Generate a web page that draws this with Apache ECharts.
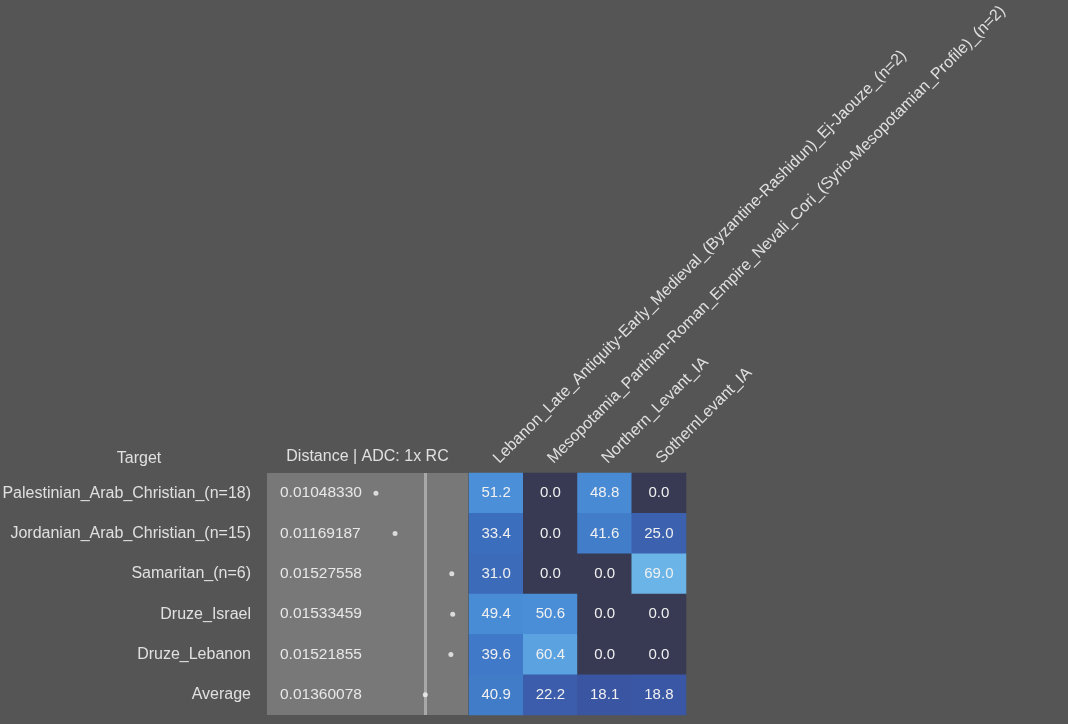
<!DOCTYPE html>
<html>
<head>
<meta charset="utf-8">
<script src="https://cdn.jsdelivr.net/npm/echarts@6/dist/echarts.min.js"></script>
<style>
html,body{margin:0;padding:0;background:#555555;}
#chart{width:1068px;height:724px;}
</style>
</head>
<body>
<div id="chart"></div>
<script>
const targets = [
  'Palestinian_Arab_Christian_(n=18)',
  'Jordanian_Arab_Christian_(n=15)',
  'Samaritan_(n=6)',
  'Druze_Israel',
  'Druze_Lebanon',
  'Average'
];
const distances = [0.01048330, 0.01169187, 0.01527558, 0.01533459, 0.01521855, 0.01360078];
const sources = [
  'Lebanon_Late_Antiquity-Early_Medieval_(Byzantine-Rashidun)_Ej-Jaouze_(n=2)',
  'Mesopotamia_Parthian-Roman_Empire_Nevali_Cori_(Syrio-Mesopotamian_Profile)_(n=2)',
  'Northern_Levant_IA',
  'SothernLevant_IA'
];
// rows follow targets, columns follow sources
const lebanonLate = [51.2, 33.4, 31.0, 49.4, 39.6, 40.9];
const mesopotamia = [0.0, 0.0, 0.0, 50.6, 60.4, 22.2];
const northernLevant = [48.8, 41.6, 0.0, 0.0, 0.0, 18.1];
const southernLevant = [0.0, 25.0, 69.0, 0.0, 0.0, 18.8];
const columns = [lebanonLate, mesopotamia, northernLevant, southernLevant];
const averageDistance = distances[distances.length - 1];

const heatData = [];
columns.forEach((col, ci) => col.forEach((v, ri) => heatData.push([ci, ri, v])));
const scatterData = distances.map((d, i) => [d, i]);
const distanceLabels = distances.map(d => d.toFixed(8));

const FONT = "'Liberation Sans', Arial, sans-serif";
const chart = echarts.init(document.getElementById('chart'));
chart.setOption({
  backgroundColor: '#555555',
  animation: false,
  textStyle: { fontFamily: FONT },
  title: {
    text: 'Target', left: 134, top: 446, textAlign: 'center',
    textStyle: { color: '#e0e0e0', fontSize: 16, fontWeight: 'normal', fontFamily: FONT }
  },
  grid: [
    { left: 267, top: 473, width: 201, height: 242, show: true, backgroundColor: '#787878', borderWidth: 0, containLabel: false, outerBoundsMode: 'none' },
    { left: 469, top: 473, width: 217, height: 242, show: false, containLabel: false, outerBoundsMode: 'none' }
  ],
  xAxis: [
    {
      type: 'value', gridIndex: 0, min: 0.0036, max: 0.0163, position: 'top',
      axisLine: { show: false }, axisTick: { show: false }, splitLine: { show: false }, axisLabel: { show: false },
      name: 'Distance | ADC: 1x RC', nameLocation: 'middle', nameGap: 8,
      nameTextStyle: { color: '#e0e0e0', fontSize: 16, fontFamily: FONT }
    },
    {
      type: 'category', gridIndex: 1, data: sources, position: 'top',
      axisLine: { show: false }, axisTick: { show: false }, splitLine: { show: false },
      axisLabel: { rotate: -45, align: 'left', verticalAlign: 'middle', color: '#e0e0e0', fontSize: 16, fontFamily: FONT, margin: 12, interval: 0 }
    }
  ],
  yAxis: [
    {
      type: 'category', gridIndex: 0, data: targets, inverse: true, position: 'left',
      axisLine: { show: false }, axisTick: { show: false }, splitLine: { show: false },
      axisLabel: { color: '#e0e0e0', fontSize: 16, fontFamily: FONT, margin: 16 }
    },
    {
      type: 'category', gridIndex: 0, data: distanceLabels, inverse: true, position: 'left',
      axisLine: { show: false }, axisTick: { show: false }, splitLine: { show: false },
      axisLabel: { inside: true, color: '#e8e8e8', fontSize: 15.5, fontFamily: FONT, margin: 13 }
    },
    {
      type: 'category', gridIndex: 1, data: targets, inverse: true, show: false
    }
  ],
  visualMap: {
    show: false, type: 'continuous', min: 0, max: 69, seriesIndex: 2, dimension: 2,
    inRange: { color: ['#373a52', '#3a55a2', '#3c70c0', '#4a90d8', '#6ab4e8'] }
  },
  series: [
    {
      type: 'scatter', xAxisIndex: 0, yAxisIndex: 0, data: [], z: 1,
      markLine: {
        silent: true, symbol: 'none', label: { show: false }, precision: 8,
        lineStyle: { color: '#a8a8a8', width: 3, type: 'solid' },
        data: [{ xAxis: averageDistance }]
      }
    },
    {
      type: 'scatter', xAxisIndex: 0, yAxisIndex: 0, data: scatterData, z: 5,
      symbol: 'circle', symbolSize: 5, itemStyle: { color: '#f4f4f4' }
    },
    {
      type: 'heatmap', xAxisIndex: 1, yAxisIndex: 2, data: heatData,
      label: {
        show: true, color: '#f0f0f0', fontSize: 15, fontFamily: FONT,
        formatter: p => p.value[2].toFixed(1)
      },
      itemStyle: { borderWidth: 0 },
      emphasis: { disabled: true }
    }
  ]
});
</script>
</body>
</html>
